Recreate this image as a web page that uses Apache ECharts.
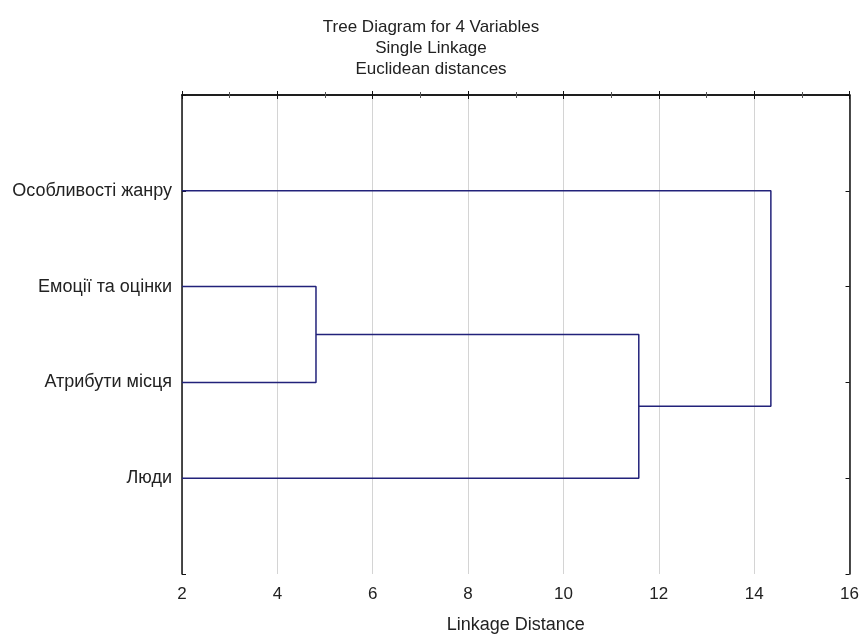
<!DOCTYPE html>
<html>
<head>
<meta charset="utf-8">
<script src="https://cdn.jsdelivr.net/npm/echarts@6/dist/echarts.min.js"></script>
<style>html,body{margin:0;padding:0;background:#fff}#c{width:862px;height:639px}</style>
</head>
<body>
<div id="c"></div>
<script>
const titleLines = ['Tree Diagram for 4 Variables', 'Single Linkage', 'Euclidean distances'];
const leafNames = ['Особливості жанру', 'Емоції та оцінки', 'Атрибути місця', 'Люди'];
// merges (node indices: 0-3 leaves, 4+ clusters in merge order)
const mergeA = [1, 4, 0];
const mergeB = [2, 3, 5];
const mergeDist = [4.81, 11.58, 14.35];
const xMin = 2, xMax = 16, xStep = 2;
const xName = 'Linkage Distance';

const nodeY = leafNames.map((_, i) => i + 1);
const nodeH = leafNames.map(() => xMin);
const series = [];
for (let k = 0; k < mergeDist.length; k++) {
  const a = mergeA[k], b = mergeB[k], d = mergeDist[k];
  series.push({
    type: 'line', symbol: 'none', silent: true,
    lineStyle: { color: '#22227a', width: 1.5 },
    data: [[nodeH[a], nodeY[a]], [d, nodeY[a]], [d, nodeY[b]], [nodeH[b], nodeY[b]]]
  });
  nodeY.push((nodeY[a] + nodeY[b]) / 2);
  nodeH.push(d);
}

const font = 'Arial, "Liberation Sans", sans-serif';
const chart = echarts.init(document.getElementById('c'), null, { renderer: 'canvas' });
chart.setOption({
  animation: false,
  backgroundColor: '#fff',
  title: {
    text: titleLines.join('\n'), left: 'center', top: 12,
    textStyle: { fontFamily: font, fontSize: 17, fontWeight: 'normal', color: '#222', lineHeight: 21 }
  },
  grid: { left: 182, right: 11, top: 95, bottom: 60 },
  xAxis: [{
    type: 'value', min: xMin, max: xMax, interval: xStep, position: 'bottom',
    name: xName, nameLocation: 'middle', nameGap: 42,
    nameTextStyle: { fontFamily: font, fontSize: 18, color: '#222' },
    axisLine: { show: true, lineStyle: { color: '#111', width: 1.5 } },
    axisTick: { show: true, inside: true, length: 4, lineStyle: { color: '#111' } },
    minorTick: { show: true, splitNumber: 2, length: 3, lineStyle: { color: '#555' } },
    axisLabel: { fontFamily: font, fontSize: 17, color: '#222', margin: 12 },
    splitLine: { show: true, lineStyle: { color: '#d4d4d4', width: 1 } }
  }, {
    type: 'value', min: xMin, max: xMax, interval: xStep, position: 'top',
    axisLine: { show: true, lineStyle: { color: '#111', width: 1.5 } },
    axisTick: { show: true, inside: true, length: 4, lineStyle: { color: '#111' } },
    minorTick: { show: true, splitNumber: 2, length: 3, lineStyle: { color: '#555' } },
    axisLabel: { show: false }, splitLine: { show: false }
  }],
  yAxis: [{
    type: 'value', min: 0, max: leafNames.length + 1, interval: 1, inverse: true, position: 'left',
    axisLine: { show: true, lineStyle: { color: '#111', width: 1.5 } },
    axisTick: { show: true, inside: true, length: 4, lineStyle: { color: '#111' } },
    axisLabel: { fontFamily: font, fontSize: 18, color: '#222', margin: 10,
      formatter: v => leafNames[v - 1] || '' },
    splitLine: { show: false }
  }, {
    type: 'value', min: 0, max: leafNames.length + 1, interval: 1, inverse: true, position: 'right',
    axisLine: { show: true, lineStyle: { color: '#111', width: 1.5 } },
    axisTick: { show: true, inside: true, length: 4, lineStyle: { color: '#111' } },
    axisLabel: { show: false }, splitLine: { show: false }
  }],
  series: series
});
</script>
</body>
</html>
